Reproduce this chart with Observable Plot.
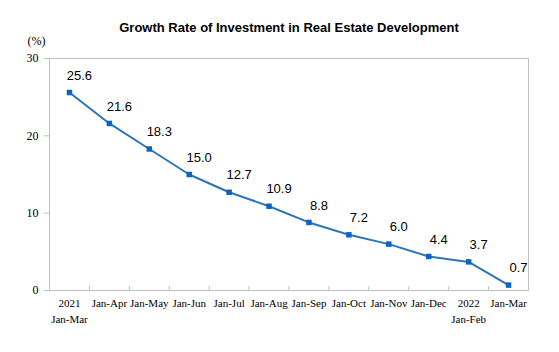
<!DOCTYPE html>
<html>
<head>
<meta charset="utf-8">
<script src="https://cdn.jsdelivr.net/npm/d3@7"></script>
<script src="https://cdn.jsdelivr.net/npm/@observablehq/plot@0.6"></script>
<style>
  html, body { margin: 0; padding: 0; background: #fff; }
  #chart svg { display: block; }
</style>
</head>
<body>
<div id="chart"></div>
<script>
const title = "Growth Rate of Investment in Real Estate Development";
const unitLabel = "(%)";
const categories = ["2021\nJan-Mar", "Jan-Apr", "Jan-May", "Jan-Jun", "Jan-Jul", "Jan-Aug",
  "Jan-Sep", "Jan-Oct", "Jan-Nov", "Jan-Dec", "2022\nJan-Feb", "Jan-Mar"];
const growth = [25.6, 21.6, 18.3, 15.0, 12.7, 10.9, 8.8, 7.2, 6.0, 4.4, 3.7, 0.7];
const yTicks = [0, 10, 20, 30];

const data = categories.map((c, i) => ({i, label: c, value: growth[i]}));
const boundaries = d3.range(1, categories.length).map(i => i - 0.5);

const lineColor = "#2e75b6";
const markColor = "#0b63c4";
const gray = "#bfbfbf";

const chart = Plot.plot({
  width: 559,
  height: 352,
  marginLeft: 49,
  marginRight: 31,
  marginTop: 58,
  marginBottom: 62,
  style: {background: "#fff", overflow: "visible"},
  x: {domain: [-0.5, categories.length - 0.5], axis: null},
  y: {domain: [0, 30], axis: null},
  marks: [
    Plot.frame({stroke: gray}),
    Plot.axisY({ticks: yTicks, tickSize: 5, tickPadding: 6, stroke: gray, fill: "#000",
      fontFamily: "Liberation Serif", fontSize: 12, label: null}),
    Plot.axisX({ticks: boundaries, tickSize: -4, tickFormat: () => "", stroke: gray, label: null}),
    Plot.text(data, {x: "i", y: 0, text: "label", lineAnchor: "top", dy: 5, lineHeight: 1.45,
      fontFamily: "Liberation Serif", fontSize: 11, fill: "#000"}),
    Plot.line(data, {x: "i", y: "value", stroke: lineColor, strokeWidth: 2}),
    Plot.dot(data, {x: "i", y: "value", symbol: "square", r: 3.1, fill: markColor, stroke: null}),
    Plot.text(data, {x: "i", y: "value", text: d => d.value.toFixed(1), dx: 10, dy: -17,
      fontFamily: "Liberation Sans", fontSize: 13, fill: "#000"}),
    Plot.text([title], {frameAnchor: "top", dy: -36, text: d => d,
      fontFamily: "Liberation Sans", fontWeight: "bold", fontSize: 13, fill: "#000"}),
    Plot.text([unitLabel], {frameAnchor: "top-left", dx: -22, dy: -22, text: d => d,
      fontFamily: "Liberation Serif", fontSize: 12, letterSpacing: 1.5, fill: "#000"})
  ]
});
document.getElementById("chart").append(chart);
</script>
</body>
</html>
